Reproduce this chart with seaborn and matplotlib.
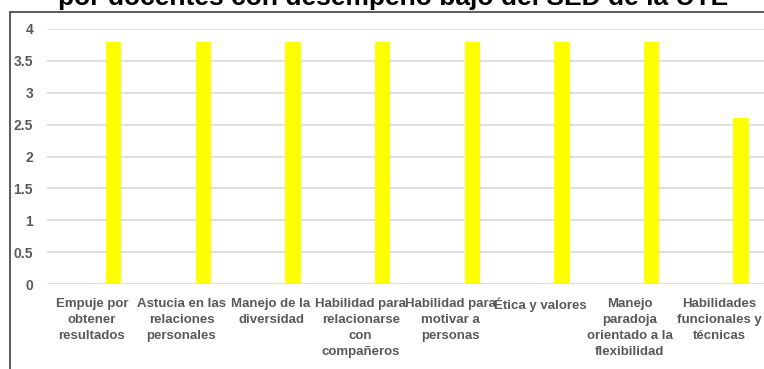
import matplotlib
matplotlib.use("Agg")
import matplotlib.pyplot as plt
from matplotlib.patches import Rectangle
import pandas as pd
import seaborn as sns

categories = [
    "Empuje por\nobtener\nresultados",
    "Astucia en las\nrelaciones\npersonales",
    "Manejo de la\ndiversidad",
    "Habilidad para\nrelacionarse\ncon\ncompañeros",
    "Habilidad para\nmotivar a\npersonas",
    "Ética y valores",
    "Manejo\nparadoja\norientado a la\nflexibilidad",
    "Habilidades\nfuncionales y\ntécnicas",
]
puntaje = [3.8, 3.8, 3.8, 3.8, 3.8, 3.8, 3.8, 2.6]
series_order = ["Esperado", "Obtenido"]
y_ticks = [0, 0.5, 1, 1.5, 2, 2.5, 3, 3.5, 4]
y_tick_labels = ["0", "0.5", "1", "1.5", "2", "2.5", "3", "3.5", "4"]
title = "por docentes con desempeño bajo del SED de la UTE"

sns.set_theme(style="white")
plt.rcParams["font.family"] = ["Liberation Sans", "DejaVu Sans"]

df = pd.DataFrame({"competencia": categories, "valor": puntaje, "serie": "Obtenido"})

fig = plt.figure(figsize=(7.64, 3.69), dpi=100)
ax = fig.add_axes([47 / 764, 85 / 369, 717 / 764, 255 / 369])

sns.barplot(
    data=df, x="competencia", y="valor", hue="serie", hue_order=series_order,
    order=categories, palette={"Esperado": "#ffffff", "Obtenido": "#ffff00"},
    saturation=1, width=0.98, gap=0.65, dodge=True, legend=False, ax=ax,
    linewidth=0,
)

ax.set_xlim(-0.5, len(categories) - 0.5)
ax.set_ylim(0, 4)
ax.set_yticks(y_ticks)
ax.set_yticklabels(y_tick_labels)
ax.yaxis.grid(True, color="#d9d9d9", linewidth=1.2)
ax.set_axisbelow(True)
for s in ax.spines.values():
    s.set_visible(False)
ax.set_xlabel("")
ax.set_ylabel("")
ax.tick_params(axis="both", length=0)
ax.tick_params(axis="y", pad=10)
ax.tick_params(axis="x", pad=10)
for lbl in ax.get_yticklabels() + ax.get_xticklabels():
    lbl.set_color("#595959")
    lbl.set_fontweight("bold")
    lbl.set_fontsize(9.5)
for lbl in ax.get_yticklabels():
    lbl.set_fontsize(10)
for lbl in ax.get_xticklabels():
    lbl.set_linespacing(1.45)
    lbl.set_verticalalignment("top")

# outer chart frame, partly cut by the figure edge
fig.add_artist(Rectangle((10 / 764, -0.1), 1.2, (369 - 12) / 369 + 0.1,
                         transform=fig.transFigure, fill=False,
                         edgecolor="#4d4d4d", linewidth=1.3))

fig.text(393 / 764, 1 - 5 / 369, title, ha="center", va="baseline",
         fontsize=19, fontweight="bold", color="#000000")

fig.savefig("out.png", dpi=100, facecolor="white")
